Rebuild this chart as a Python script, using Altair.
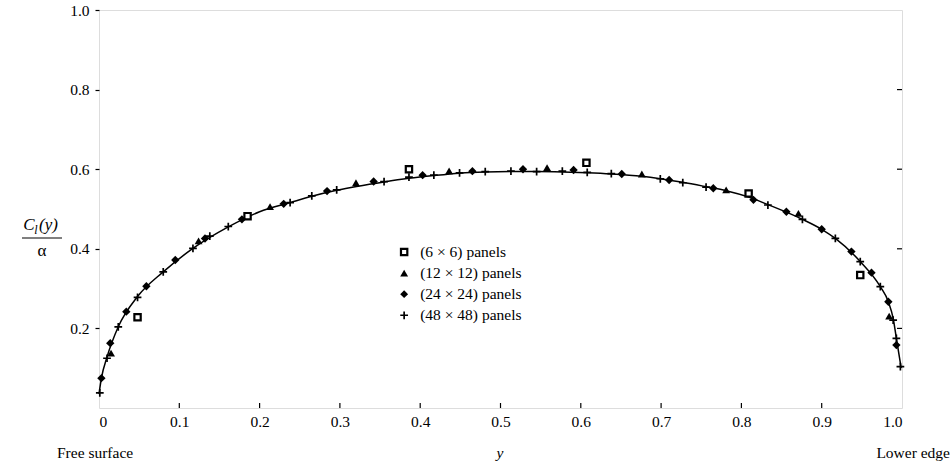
import altair as alt
import pandas as pd

# ---- data ----
curve_x = [0.0, 0.003, 0.010, 0.024, 0.048, 0.080, 0.117, 0.161, 0.200, 0.238, 0.265, 0.296,
           0.355, 0.386, 0.417, 0.449, 0.481, 0.513, 0.545, 0.577, 0.608, 0.638, 0.676, 0.699,
           0.727, 0.756, 0.781, 0.809, 0.833, 0.876, 0.900, 0.917, 0.948, 0.973, 0.983, 0.989,
           0.993, 0.999]
curve_y = [0.035, 0.075, 0.128, 0.204, 0.280, 0.342, 0.401, 0.455, 0.493, 0.516, 0.532, 0.547,
           0.568, 0.577, 0.584, 0.590, 0.593, 0.594, 0.594, 0.593, 0.591, 0.588, 0.582, 0.576,
           0.567, 0.556, 0.546, 0.530, 0.511, 0.474, 0.449, 0.426, 0.368, 0.305, 0.267, 0.225,
           0.175, 0.100]

sq_x = [0.048, 0.185, 0.386, 0.607, 0.809, 0.948]
sq_y = [0.228, 0.482, 0.600, 0.616, 0.539, 0.334]

tri_x = [0.015, 0.124, 0.213, 0.320, 0.436, 0.558, 0.676, 0.781, 0.871, 0.984]
tri_y = [0.138, 0.420, 0.506, 0.566, 0.596, 0.604, 0.588, 0.548, 0.489, 0.231]

dia_x = [0.003, 0.014, 0.034, 0.059, 0.095, 0.132, 0.178, 0.230, 0.284, 0.342, 0.403, 0.465,
         0.528, 0.591, 0.651, 0.710, 0.765, 0.815, 0.856, 0.900, 0.937, 0.962, 0.983, 0.993]
dia_y = [0.075, 0.163, 0.242, 0.306, 0.372, 0.426, 0.474, 0.513, 0.545, 0.569, 0.585, 0.595,
         0.600, 0.598, 0.588, 0.573, 0.552, 0.523, 0.493, 0.449, 0.393, 0.340, 0.267, 0.158]

plus_x = [0.001, 0.010, 0.024, 0.048, 0.080, 0.117, 0.138, 0.161, 0.238, 0.265, 0.296, 0.355,
          0.386, 0.417, 0.449, 0.481, 0.513, 0.545, 0.577, 0.608, 0.638, 0.699, 0.727, 0.756,
          0.833, 0.876, 0.917, 0.948, 0.973, 0.989, 0.993, 0.998]
plus_y = [0.038, 0.125, 0.204, 0.278, 0.342, 0.401, 0.432, 0.456, 0.516, 0.533, 0.548, 0.569,
          0.580, 0.585, 0.591, 0.594, 0.595, 0.594, 0.595, 0.592, 0.589, 0.576, 0.566, 0.555,
          0.510, 0.474, 0.426, 0.368, 0.305, 0.221, 0.175, 0.104]

x_ticks = [0.0, 0.1, 0.2, 0.3, 0.4, 0.5, 0.6, 0.7, 0.8, 0.9, 1.0]
y_ticks = [0.2, 0.4, 0.6, 0.8, 1.0]

legend_labels = ["(6 \u00d7 6) panels", "(12 \u00d7 12) panels", "(24 \u00d7 24) panels", "(48 \u00d7 48) panels"]
legend_y = [0.392, 0.339, 0.286, 0.233]
legend_sym_x = 0.380
legend_txt_x = 0.400

W, H = 803, 398
FONT = "Liberation Serif, Times New Roman, serif"
PLUS = "M-1,0L1,0M0,-1L0,1"

xs = alt.Scale(domain=[0, 1])
ys = alt.Scale(domain=[0, 1])

xaxis = alt.Axis(values=x_ticks, labelExpr="datum.value == 0 ? '0' : format(datum.value, '.1f')",
                 title=None, ticks=False, domain=False, grid=False, labelFont=FONT,
                 labelFontSize=15.5, labelColor="black", labelPadding=6)
yaxis = alt.Axis(values=y_ticks, format=".1f", title=None, tickSize=4, tickColor="black",
                 tickWidth=1.2, domain=False, grid=False, labelFont=FONT, labelFontSize=15.5,
                 labelColor="black", labelPadding=6)

curve_df = pd.DataFrame({"x": curve_x, "y": curve_y})
curve = alt.Chart(curve_df).mark_line(color="black", strokeWidth=1.5, interpolate="monotone").encode(
    x=alt.X("x:Q", scale=xs, axis=xaxis),
    y=alt.Y("y:Q", scale=ys, axis=yaxis),
)

def pts(xv, yv, **kw):
    df = pd.DataFrame({"x": xv, "y": yv})
    return alt.Chart(df).mark_point(**kw).encode(
        x=alt.X("x:Q", scale=xs), y=alt.Y("y:Q", scale=ys))

plus = pts(plus_x, plus_y, shape=PLUS, size=60, filled=False, stroke="black", strokeWidth=1.7, opacity=1)
dia = pts(dia_x, dia_y, shape="diamond", size=70, filled=True, color="black", opacity=1)
tri = pts(tri_x, tri_y, shape="triangle-up", size=62, filled=True, color="black", opacity=1)
sq = pts(sq_x, sq_y, shape="square", size=40, filled=True, fill="white", stroke="black",
         strokeWidth=2.2, opacity=1)

# bottom inward ticks and right inward ticks
bt_df = pd.DataFrame({"x": x_ticks[1:-1]})
bticks = alt.Chart(bt_df).mark_rule(color="black", strokeWidth=1.2).encode(
    x=alt.X("x:Q", scale=xs), y=alt.value(H), y2=alt.value(H - 5))
rt_df = pd.DataFrame({"y": y_ticks[:-1]})
rticks = alt.Chart(rt_df).mark_rule(color="black", strokeWidth=1.2).encode(
    y=alt.Y("y:Q", scale=ys), x=alt.value(W), x2=alt.value(W - 5))

# legend
leg_shapes = ["square", "triangle-up", "diamond", PLUS]
leg_layers = []
for lab, ly, shp in zip(legend_labels, legend_y, leg_shapes):
    d = pd.DataFrame({"x": [legend_sym_x], "y": [ly], "t": [lab], "tx": [legend_txt_x]})
    if shp == "square":
        m = alt.Chart(d).mark_point(shape=shp, size=40, filled=True, fill="white", stroke="black",
                                    strokeWidth=2.2, opacity=1)
    elif shp == PLUS:
        m = alt.Chart(d).mark_point(shape=shp, size=60, filled=False, stroke="black",
                                    strokeWidth=1.7, opacity=1)
    else:
        m = alt.Chart(d).mark_point(shape=shp, size=62, filled=True, color="black", opacity=1)
    leg_layers.append(m.encode(x=alt.X("x:Q", scale=xs), y=alt.Y("y:Q", scale=ys)))
    leg_layers.append(alt.Chart(d).mark_text(align="left", baseline="middle", font=FONT,
                                             fontSize=15.5, color="black").encode(
        x=alt.X("tx:Q", scale=xs), y=alt.Y("y:Q", scale=ys), text="t:N"))

# axis titles as text
one = pd.DataFrame({"a": [0]})
def label(txt, x, y, align="left", size=15.5, style="normal"):
    return alt.Chart(one).mark_text(text=txt, align=align, baseline="middle", font=FONT,
                                    fontSize=size, fontStyle=style, color="black").encode(
        x=alt.value(x), y=alt.value(y))

titles = [
    label("Free surface", -42, 443),
    label("y", 401, 443, align="center", style="italic"),
    label("Lower edge", 851, 443, align="right"),
    label("C", -70, 215, align="center", size=17, style="italic"),
    label("l", -63, 220, align="center", size=12, style="italic"),
    label("(y)", -60, 215, align="left", size=17, style="italic"),
    label("\u03b1", -57, 241, align="center", size=17),
    alt.Chart(one).mark_rule(color="black", strokeWidth=1).encode(
        x=alt.value(-77), x2=alt.value(-37), y=alt.value(228)),
]

chart = alt.layer(curve, bticks, rticks, sq, tri, dia, plus, *leg_layers, *titles).properties(
    width=W, height=H,
    autosize=alt.AutoSizeParams(type="none"),
    padding={"left": 99, "top": 10, "right": 50, "bottom": 63},
).configure_view(stroke="black", strokeWidth=1.5).configure(background="white", font=FONT)

chart.save("out.html", embed_options={"renderer": "svg", "actions": False})
